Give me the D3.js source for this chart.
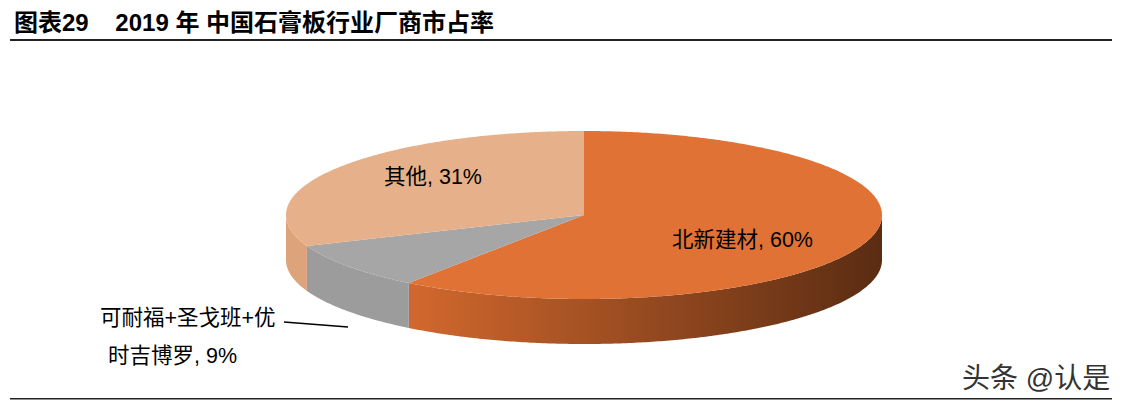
<!DOCTYPE html>
<html><head><meta charset="utf-8">
<script src="https://cdn.jsdelivr.net/npm/d3@7/dist/d3.min.js"></script>
<style>body{margin:0;background:#fff}text{font-family:"Liberation Sans","Noto Sans CJK SC",sans-serif}</style>
</head><body><svg id="c" width="1122" height="406"></svg>
<script>
const categories=["北新建材","可耐福+圣戈班+优时吉博罗","其他"];
const values=[60,9,31];
const labels=["北新建材, 60%","可耐福+圣戈班+优\n时吉博罗, 9%","其他, 31%"];
const topColors=["#E07236","#A6A6A6","#E6B08A"];
const sideColors=["url(#og)","#9c9c9c","#DDA47C"];

const svg=d3.select("#c");
const defs=svg.append("defs");
const g=defs.append("linearGradient").attr("id","og").attr("x1","0").attr("x2","1").attr("y1","0").attr("y2","0");
g.append("stop").attr("offset","0").attr("stop-color","#D2682E");
g.append("stop").attr("offset","1").attr("stop-color","#5A2C12");

svg.append("text").attr("x",14).attr("y",31).attr("font-size",24).attr("font-weight","bold").attr("fill","#000")
  .text("图表29\u00a0\u00a0\u00a0\u00a02019 年 中国石膏板行业厂商市占率");
svg.append("rect").attr("x",10).attr("y",39).attr("width",1102).attr("height",2).attr("fill","#222");
svg.append("rect").attr("x",10).attr("y",398).attr("width",1102).attr("height",1.5).attr("fill","#222");

const cx=584,cy=215,rx=298,ry=84,depth=45;
const pie=d3.pie().sort(null).value(d=>d)(values);
const pt=(a,dy=0)=>[cx+rx*Math.sin(a),cy-ry*Math.cos(a)+dy];
function arcPts(a0,a1,dy){const n=Math.max(2,Math.ceil((a1-a0)/0.01));return d3.range(n+1).map(i=>pt(a0+(a1-a0)*i/n,dy));}
const H=Math.PI/2, T=3*Math.PI/2;
pie.forEach((p,i)=>{
  const a0=Math.max(p.startAngle,H),a1=Math.min(p.endAngle,T);
  if(a1<=a0)return;
  const top=arcPts(a0,a1,0),bot=arcPts(a0,a1,depth).reverse();
  svg.append("path").attr("d",d3.line()(top.concat(bot))+"Z").attr("fill",sideColors[i]);
});
pie.forEach((p,i)=>{
  const pts=[[cx,cy]].concat(arcPts(p.startAngle,p.endAngle,0));
  svg.append("path").attr("d",d3.line()(pts)+"Z").attr("fill",topColors[i]);
});
const fs=21.5;
svg.append("text").attr("x",672).attr("y",247).attr("font-size",fs).text(labels[0]);
svg.append("text").attr("x",384).attr("y",184).attr("font-size",fs).text(labels[2]);
const l2=labels[1].split("\n");
svg.append("text").attr("x",100).attr("y",325).attr("font-size",fs).text(l2[0]);
svg.append("text").attr("x",108).attr("y",363).attr("font-size",fs).text(l2[1]);
svg.append("line").attr("x1",284).attr("y1",322).attr("x2",348).attr("y2",327).attr("stroke","#000").attr("stroke-width",1.5);
svg.append("text").attr("x",962).attr("y",388).attr("font-size",28).attr("fill","#333").text("头条 @认是");
</script></body></html>
